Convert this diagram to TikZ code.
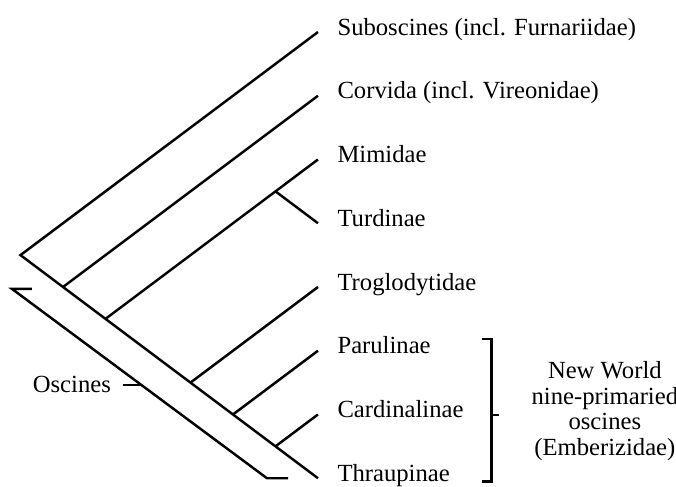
\documentclass[tikz,border=0pt]{standalone}
\usepackage{fontspec}
\setmainfont{Liberation Serif}
\usetikzlibrary{calc,positioning}

\begin{document}
\begin{tikzpicture}[
    branch/.style={line width=1.1pt},
    taxon/.style={anchor=base west,inner sep=0pt,font=\fontsize{11}{13}\selectfont}]
    \useasboundingbox (-4.988,0.502) rectangle (5.616,-7.122);

    % Tips and junctions on the stem
    \foreach \i in {0,...,7} {
        \coordinate (t\i) at (0,-\i);
        \coordinate (j\i) at ({(\i-7)/1.5},{-(\i+7)/2});
    }
    \coordinate (mt) at ({-2/3},-2.5);

    % Tree
    \draw[branch] (t0) -- (j0) -- (t7);
    \draw[branch] (j1) -- (t1);
    \draw[branch] (j2) -- (t2);
    \draw[branch] (mt) -- (t3);
    \draw[branch] (j4) -- (t4);
    \draw[branch] (j5) -- (t5);
    \draw[branch] (j6) -- (t6);

    % Taxa
    \node[taxon] (sub)  at ($(t0)+(0.3,-0.05)$) {Suboscines (incl. Furnariidae)};
    \node[taxon] (cor)  at ($(t1)+(0.3,-0.05)$) {Corvida (incl. Vireonidae)};
    \node[taxon] (mim)  at ($(t2)+(0.3,-0.05)$) {Mimidae};
    \node[taxon] (tur)  at ($(t3)+(0.3,-0.05)$) {Turdinae};
    \node[taxon] (tro)  at ($(t4)+(0.3,-0.05)$) {Troglodytidae};
    \node[taxon] (par)  at ($(t5)+(0.3,-0.05)$) {Parulinae};
    \node[taxon] (car)  at ($(t6)+(0.3,-0.05)$) {Cardinalinae};
    \node[taxon] (thr)  at ($(t7)+(0.3,-0.05)$) {Thraupinae};

    % Oscines bracket
    \coordinate (ob1) at (-4.486,-4.03);
    \coordinate (ob2) at (-4.8,-4.03);
    \coordinate (ob3) at (-0.8,-7.0);
    \coordinate (ob4) at (-0.47,-7.0);
    \draw[branch] (ob1) -- (ob2) -- (ob3) -- (ob4);
    \coordinate (otick) at ($(ob2)!0.507!(ob3)$);
    \coordinate (otickend) at ($(otick)+(-0.28,0)$);
    \draw[branch] (otick) -- (otickend);
    \node[anchor=east,inner sep=0pt,font=\fontsize{11}{13}\selectfont,left=0.19 of otickend] (osc) {Oscines};

    % Emberizidae bracket
    \coordinate (nb1) at (2.568,-4.816);
    \coordinate (nb2) at (2.725,-4.816);
    \coordinate (nb3) at (2.725,-7.054);
    \coordinate (nb4) at (2.568,-7.054);
    \draw[branch] (nb1) -- (nb2) -- (nb3) -- (nb4);
    \coordinate (ntick) at ($(nb2)!0.533!(nb3)$);
    \coordinate (ntickend) at ($(ntick)+(0.12,0)$);
    \draw[branch] (ntick) -- (ntickend);
    \node[align=center,inner sep=0pt,font=\fontsize{11}{11.4}\selectfont] (nw) at (4.5,-5.945)
        {New World\\nine-primaried\\oscines\\(Emberizidae)};
\end{tikzpicture}
\end{document}
